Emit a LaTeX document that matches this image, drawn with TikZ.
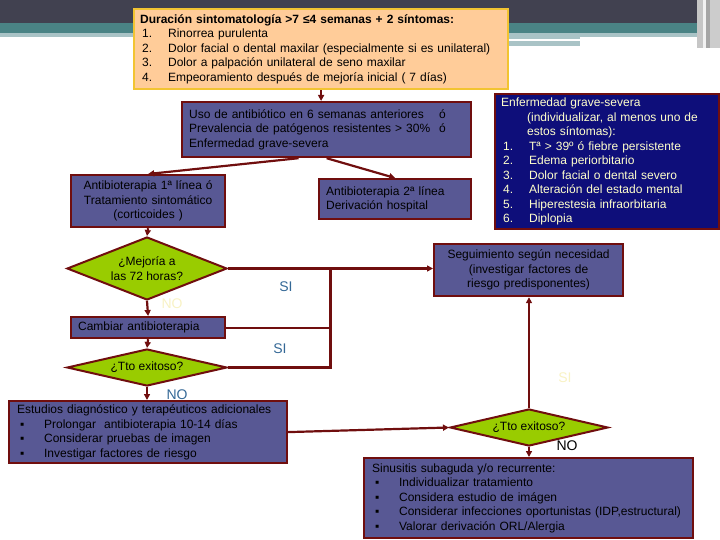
\documentclass[tikz,border=0pt]{standalone}
\usepackage{fontspec}
\setmainfont{Liberation Sans}
\usepackage{tikz}
\usetikzlibrary{positioning, arrows.meta, shapes.geometric, calc}
\definecolor{granate}{RGB}{112,14,14}
\definecolor{azulcaja}{RGB}{88,88,148}
\definecolor{azulmarino}{RGB}{14,14,122}
\definecolor{verde}{RGB}{153,204,0}
\definecolor{melocoton}{RGB}{255,204,153}
\definecolor{dorado}{RGB}{242,196,50}
\definecolor{amarillo}{RGB}{255,255,204}
\definecolor{palido}{RGB}{248,242,196}
\definecolor{azulsi}{RGB}{52,104,150}
\definecolor{franja}{RGB}{65,65,80}
\definecolor{verdeazul}{RGB}{74,131,133}
\definecolor{gris}{RGB}{169,195,198}
\newcommand{\nitem}[1]{\hspace*{2pt}\makebox[26pt][l]{#1}}
\newcommand{\bitem}{\hspace*{3pt}\makebox[24pt][l]{▪}}

\begin{document}
\begin{tikzpicture}[
    x=1pt, y=-1pt,
    every node/.style={font=\fontsize{12}{14.5}\selectfont},
    caja/.style={rectangle, draw=granate, fill=azulcaja, line width=2.2pt,
                 inner xsep=7pt, inner ysep=2pt, align=left, anchor=north west},
    marino/.style={caja, fill=azulmarino, text=amarillo, inner xsep=6pt},
    naranja/.style={caja, draw=dorado, fill=melocoton, inner xsep=6pt},
    rombo/.style={diamond, draw=granate, fill=verde, line width=2pt,
                  inner sep=0pt, align=center},
    flecha/.style={draw=granate, line width=2.2pt, -{Triangle[length=6pt,width=6pt]}},
    linea/.style={draw=granate, line width=2.2pt},
    etiqueta/.style={font=\fontsize{14}{16}\selectfont}
]
\useasboundingbox (0,0) rectangle (720,540);
\fill[franja] (0,0) rectangle (720,23);
\fill[verdeazul] (0,23) rectangle (720,33);
\fill[gris] (0,33) rectangle (720,37);
\fill[gris] (500,37) rectangle (580,46);
\fill[white] (500,39) rectangle (667,41);
\fill[gray!45] (697,0) rectangle (703,48);
\fill[white!90!gray] (703,0) rectangle (706,48);
\fill[gray!70] (706,0) rectangle (710,48);
\fill[gray!40] (710,0) rectangle (720,48);

\node[naranja, minimum width=374pt, minimum height=80pt, text width=362pt] (sintomas) at (133,8)
  {\textbf{Duración sintomatología >7 ≤4 semanas + 2 síntomas:}\\
   \nitem{1.}Rinorrea purulenta\\
   \nitem{2.}Dolor facial o dental maxilar (especialmente si es unilateral)\\
   \nitem{3.}Dolor a palpación unilateral de seno maxilar\\
   \nitem{4.}Empeoramiento después de mejoría inicial ( 7 días)};
\node[caja, minimum width=289pt, minimum height=55pt, text width=275pt] (factores) at (181,101)
  {\makebox[250pt][l]{Uso de antibiótico en 6 semanas anteriores}ó\\
   \makebox[250pt][l]{Prevalencia de patógenos resistentes > 30\%}ó\\
   Enfermedad grave-severa};
\node[caja, minimum width=154pt, minimum height=52pt, text width=140pt, align=center] (primera) at (70,174)
  {Antibioterapia 1ª línea ó\\Tratamiento sintomático\\(corticoides )};
\node[caja, minimum width=152pt, minimum height=40pt, text width=138pt] (segunda) at (318,178)
  {Antibioterapia 2ª línea\\Derivación hospital};
\node[marino, minimum width=224pt, minimum height=135pt, text width=212pt] (grave) at (494,93)
  {Enfermedad grave-severa\\
   \hspace*{26pt}(individualizar, al menos uno de\\
   \hspace*{26pt}estos síntomas):\\
   \nitem{1.}Tª > 39º ó fiebre persistente\\
   \nitem{2.}Edema periorbitario\\
   \nitem{3.}Dolor facial o dental severo\\
   \nitem{4.}Alteración del estado mental\\
   \nitem{5.}Hiperestesia infraorbitaria\\
   \nitem{6.}Diplopia};
\node[caja, minimum width=189pt, minimum height=52pt, text width=175pt, align=center] (seguimiento) at (433,243)
  {Seguimiento según necesidad\\(investigar factores de\\riesgo predisponentes)};
\node[rombo, aspect=2.5, minimum width=160pt, minimum height=63pt] (mejoria) at (147,268.5)
  {¿Mejoría a\\las 72 horas?};
\node[caja, minimum width=154pt, minimum height=21pt, text width=140pt] (cambiar) at (70,316)
  {Cambiar antibioterapia};
\node[rombo, aspect=4.3, minimum width=160pt, minimum height=37pt] (exito1) at (147,367.5)
  {¿Tto exitoso?};
\node[caja, minimum width=278pt, minimum height=62pt, text width=262pt, inner xsep=8pt] (estudios) at (8,400)
  {Estudios diagnóstico y terapéuticos adicionales\\
   \bitem Prolongar\ \ antibioterapia 10-14 días\\
   \bitem Considerar pruebas de imagen\\
   \bitem Investigar factores de riesgo};
\node[rombo, aspect=4.3, minimum width=158pt, minimum height=37pt] (exito2) at (529,427.5)
  {¿Tto exitoso?};
\node[caja, minimum width=329pt, minimum height=80pt, text width=313pt, inner xsep=8pt] (sinusitis) at (363,457)
  {Sinusitis subaguda y/o recurrente:\\
   \bitem Individualizar tratamiento\\
   \bitem Considera estudio de imágen\\
   \bitem Considerar infecciones oportunistas (IDP,estructural)\\
   \bitem Valorar derivación ORL/Alergia};

\node[etiqueta, text=azulsi] (si1) at (286,287) {SI};
\node[etiqueta, text=azulsi] (si2) at (280,349) {SI};
\node[etiqueta, text=palido] (no1) at (172,304) {NO};
\node[etiqueta, text=azulsi] (no2) at (177,395) {NO};
\node[etiqueta, text=palido] (si3) at (565,378) {SI};
\node[etiqueta] (no3) at (567,446) {NO};

\coordinate (union) at ($(mejoria.east)!0.5!(seguimiento.west)$);

\draw[flecha] (sintomas.south) -- (sintomas.south |- factores.north);
\draw[flecha] ([xshift=-28pt]factores.south) -- (primera.north);
\draw[flecha] (factores.south) -- (segunda.north);
\draw[flecha] (primera.south) -- (mejoria.north);
\draw[flecha] (mejoria.east) -- (mejoria.east -| seguimiento.west);
\draw[flecha] (mejoria.south) -- (cambiar.north);
\draw[linea] (cambiar.east) -- (cambiar.east -| union);
\draw[linea] (union) |- (exito1.east);
\draw[flecha] (cambiar.south) -- (exito1.north);
\draw[flecha] (exito1.south) -- (estudios.north -| exito1.south);
\draw[flecha] (estudios.east) -- (exito2.west);
\draw[flecha] (exito2.north) -- (exito2.north |- seguimiento.south);
\draw[flecha] (exito2.south) -- (exito2.south |- sinusitis.north);
\end{tikzpicture}
\end{document}
